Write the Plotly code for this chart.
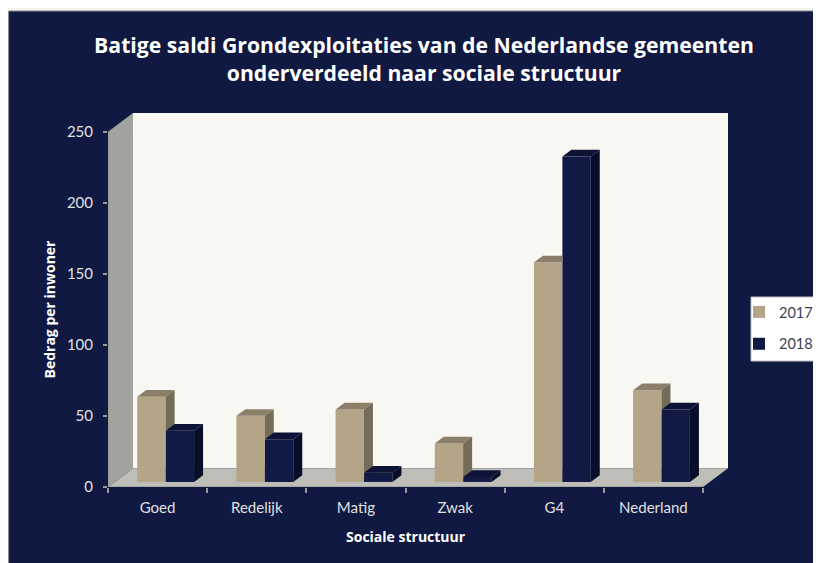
import plotly.graph_objects as go

# ---------------- data ----------------
categories = ["Goed", "Redelijk", "Matig", "Zwak", "G4", "Nederland"]
series_names = ["2017", "2018"]
values_2017 = [60, 46.5, 51, 27, 154.5, 64.5]
values_2018 = [36, 30, 6.5, 3.5, 229, 51]
y_ticks = [0, 50, 100, 150, 200, 250]

# ---------------- style ----------------
NAVY = "#0f1942"
LIGHT = "#f5f4ef"
front_colors = {"2017": "#b4a488", "2018": "#101a45"}
top_colors = {"2017": "#8c7f69", "2018": "#0c1336"}
side_colors = {"2017": "#756b59", "2018": "#080d29"}

OFF = 8                      # page body margin
W, H = 821 - OFF, 563 - OFF  # figure size
# plot area in page pixels: x 108..728, y 113..487
ML = 108 - OFF
MR = W - (728 - OFF)
MT = 113 - OFF
MB = H - (487 - OFF)

# 3D geometry (in data units)
DEPTH_X = 0.252
DEPTH_Y = 13.15
F0 = 0.27
F1 = 0.63
BAR_W = 0.286
OFFSETS = {"2017": -0.205, "2018": 0.082}
base_y = F0 * DEPTH_Y
ddx = (F1 - F0) * DEPTH_X
ddy = (F1 - F0) * DEPTH_Y

x_pos = list(range(len(categories)))
x_lo, x_hi = -0.5, len(categories) - 0.5
y_top = y_ticks[-1] + DEPTH_Y


def xp(px):
    """page pixel x -> paper coordinate"""
    return (px - OFF - ML) / (W - ML - MR)


def yp(py):
    """page pixel y -> paper coordinate"""
    return (H - MB - (py - OFF)) / (H - MT - MB)


fig = go.Figure()
data = {"2017": values_2017, "2018": values_2018}

# front faces as bars
for s in series_names:
    fig.add_trace(go.Bar(
        x=x_pos, y=data[s], base=base_y, name=s,
        width=BAR_W, offset=OFFSETS[s],
        marker=dict(color=front_colors[s], line=dict(width=0)),
        legendgroup=s,
        customdata=categories,
        hovertemplate="%{customdata}<br>" + s + ": %{y}<extra></extra>",
    ))


def poly(points, color):
    xs = [p[0] for p in points] + [points[0][0]]
    ys = [p[1] for p in points] + [points[0][1]]
    fig.add_trace(go.Scatter(
        x=xs, y=ys, fill="toself", fillcolor=color, mode="lines",
        line=dict(width=0, color=color), hoverinfo="skip", showlegend=False,
    ))


# top and side faces
for s in series_names:
    for i, c in enumerate(x_pos):
        v = data[s][i]
        xl = c + OFFSETS[s]
        xr = xl + BAR_W
        b = base_y
        t = b + v
        if s == "2017":
            v_next = values_2018[i]
            h = b + v_next
            if v > v_next:
                poly([(xl, t), (xr, t), (xr + ddx, t + ddy), (xl + ddx, t + ddy)], top_colors[s])
                if h >= b + ddy:
                    poly([(xr, h), (xr, t), (xr + ddx, t + ddy), (xr + ddx, h)], side_colors[s])
                else:
                    poly([(xr, h), (xr + ddx * (h - b) / ddy, h), (xr + ddx, b + ddy),
                          (xr + ddx, t + ddy), (xr, t)], side_colors[s])
            else:
                poly([(xl, t), (xr, t), (xr, t + ddy), (xl + ddx, t + ddy)], top_colors[s])
        else:
            poly([(xl, t), (xr, t), (xr + ddx, t + ddy), (xl + ddx, t + ddy)], top_colors[s])
            poly([(xr, b), (xr, t), (xr + ddx, t + ddy), (xr + ddx, b + ddy)], side_colors[s])

shapes = []
# outer light border strips
shapes.append(dict(type="rect", xref="paper", yref="paper", x0=xp(0), x1=xp(9), y0=yp(H + OFF + 5), y1=yp(-5),
                   fillcolor=LIGHT, line=dict(width=0), layer="below"))
shapes.append(dict(type="rect", xref="paper", yref="paper", x0=xp(0), x1=xp(W + OFF + 5), y0=yp(11), y1=yp(-5),
                   fillcolor=LIGHT, line=dict(width=0), layer="below"))
shapes.append(dict(type="line", xref="paper", yref="paper", x0=xp(8.5), x1=xp(8.5), y0=yp(H + OFF + 5), y1=yp(11),
                   line=dict(color="#8a8a8a", width=1.2), layer="below"))
shapes.append(dict(type="line", xref="paper", yref="paper", x0=xp(8.5), x1=xp(W + OFF + 5), y0=yp(11), y1=yp(11),
                   line=dict(color="#8a8a8a", width=1.2), layer="below"))

# back wall
shapes.append(dict(type="rect", xref="x", yref="y", x0=x_lo + DEPTH_X, x1=x_hi + DEPTH_X,
                   y0=DEPTH_Y, y1=y_top, fillcolor="#f8f7f2", line=dict(width=0), layer="below"))
# left wall
shapes.append(dict(type="path", xref="x", yref="y",
                   path=f"M{x_lo},0 L{x_lo},{y_ticks[-1]} L{x_lo + DEPTH_X},{y_top} L{x_lo + DEPTH_X},{DEPTH_Y} Z",
                   fillcolor="#a3a39d", line=dict(width=0), layer="below"))
# floor
shapes.append(dict(type="path", xref="x", yref="y",
                   path=f"M{x_lo},0 L{x_hi},0 L{x_hi + DEPTH_X},{DEPTH_Y} L{x_lo + DEPTH_X},{DEPTH_Y} Z",
                   fillcolor="#bebeb8", line=dict(width=0), layer="below"))
# axis lines
shapes.append(dict(type="line", xref="x", yref="y", x0=x_lo, x1=x_hi, y0=0, y1=0,
                   line=dict(color="#9a9a9a", width=1.5), layer="below"))
shapes.append(dict(type="line", xref="x", yref="y", x0=x_lo, x1=x_lo, y0=0, y1=y_ticks[-1],
                   line=dict(color="#9a9a9a", width=1.5), layer="below"))
# legend box
shapes.append(dict(type="rect", xref="paper", yref="paper", x0=xp(751), x1=xp(W + OFF + 10), y0=yp(361), y1=yp(297),
                   fillcolor="white", line=dict(width=1, color="#bfbfbf"), layer="above"))

fig.update_layout(
    width=W, height=H,
    margin=dict(l=ML, r=MR, t=MT, b=MB, autoexpand=False),
    paper_bgcolor=NAVY, plot_bgcolor="rgba(0,0,0,0)",
    barmode="overlay",
    font=dict(family="Lato", color="#e0e0e0", size=15),
    title=dict(
        text="Batige saldi Grondexploitaties van de Nederlandse gemeenten<br>onderverdeeld naar sociale structuur",
        font=dict(family="Open Sans", size=21.2, color="white", weight="bold"),
        x=(424 - OFF) / W, xanchor="center", xref="container",
        y=1 - (53 - OFF) / H, yanchor="middle", yref="container",
    ),
    xaxis=dict(
        range=[x_lo, x_hi + DEPTH_X], tickmode="array", tickvals=x_pos, ticktext=categories,
        ticks="", showgrid=False, zeroline=False, showline=False,
        tickfont=dict(family="Lato", size=15, color="#e0e0e0"),
        ticklabelstandoff=10,
        minor=dict(tickmode="linear", tick0=-0.5, dtick=1, ticks="outside", ticklen=5,
                   tickcolor="#9a9a9a", tickwidth=1.5, showgrid=False),
        fixedrange=True,
    ),
    yaxis=dict(
        range=[0, y_top], tickmode="array", tickvals=y_ticks,
        ticks="outside", ticklen=4, tickcolor="#9a9a9a", tickwidth=1.5,
        showgrid=False, zeroline=False, showline=False,
        tickfont=dict(family="Lato", size=15, color="#e0e0e0"),
        ticklabelstandoff=7,
        fixedrange=True,
    ),
    legend=dict(
        x=xp(739), xanchor="left", y=yp(296), yanchor="top",
        bgcolor="rgba(0,0,0,0)", font=dict(family="Lato", size=14.5, color="#3c3f4f"),
        tracegroupgap=10, traceorder="grouped",
    ),
    shapes=shapes,
    annotations=[
        dict(text="<b>Sociale structuur</b>", xref="paper", yref="paper", x=xp(406), y=yp(536),
             xanchor="center", yanchor="middle", showarrow=False,
             font=dict(family="Open Sans", size=14, color="white")),
        dict(text="<b>Bedrag per inwoner</b>", xref="paper", yref="paper", x=xp(49), y=yp(309.5),
             xanchor="center", yanchor="middle", showarrow=False, textangle=-90,
             font=dict(family="Open Sans", size=14, color="white")),
    ],
    hovermode="closest",
)

fig.write_html("out.html")
